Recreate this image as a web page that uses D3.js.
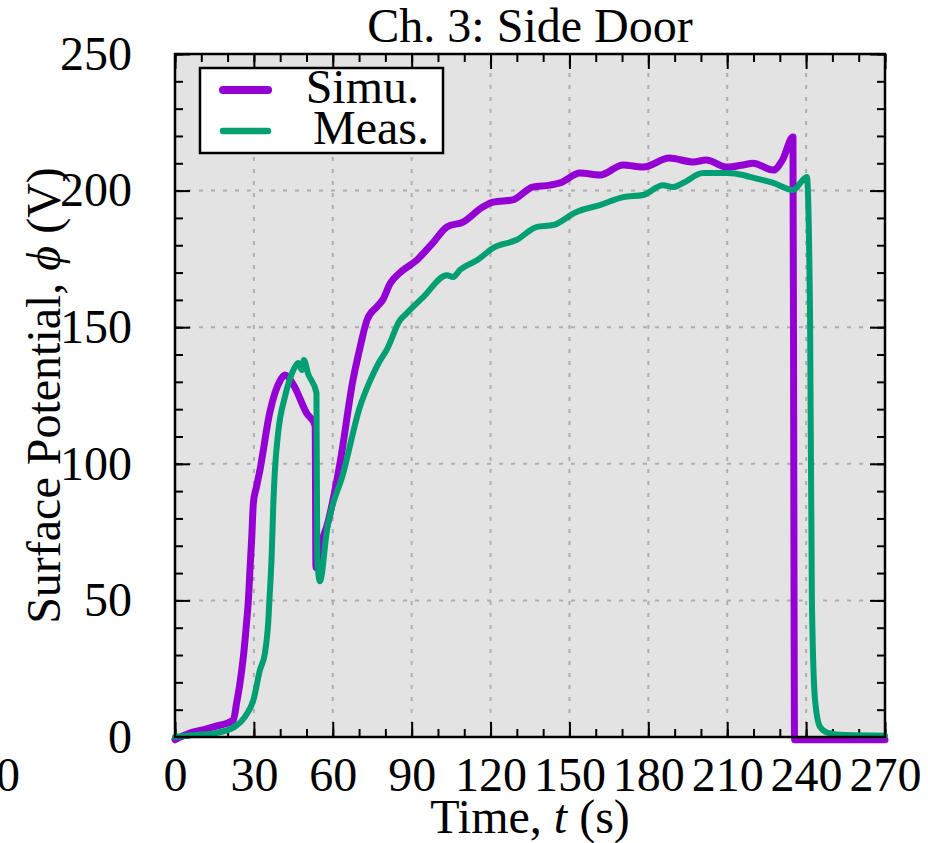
<!DOCTYPE html>
<html>
<head>
<meta charset="utf-8">
<script src="https://cdn.jsdelivr.net/npm/d3@7"></script>
<style>
  html, body { margin: 0; padding: 0; background: #fff; }
  svg { display: block; }
  text { font-family: "Liberation Serif", "Times New Roman", serif; fill: #000; }
</style>
</head>
<body>
<svg id="chart" width="928" height="843"></svg>
<script>
// ---------- data ----------
const chartTitle = "Ch. 3: Side Door";
const seriesNames = ["Simu.", "Meas."];
const seriesColors = ["#9400d3", "#009e73"];

const simuTime = [0, 5, 10, 15, 22.2, 23.4, 24.7, 26, 27.3, 27.9, 28.5, 29.2, 29.8, 31, 32.3, 36, 40, 41.8, 45, 50, 53.3, 53.6, 54.5, 56.3, 57.7, 62.7, 67.7, 70.4, 73, 76.7, 79, 81.8, 85.6, 92, 98, 103.4, 109.5, 117, 121, 128.5, 136, 142.6, 146.4, 154, 161.6, 170.4, 178, 188, 197, 202, 210, 216, 219.8, 227.5, 231, 235, 235.3, 235.6, 270];
const simuValue = [-1, 1.2, 2.5, 3.8, 6.2, 12.3, 19.7, 29.4, 42.8, 50, 61, 73.3, 85.6, 91.6, 97.7, 118.6, 130.5, 132.5, 129, 118.6, 114, 62, 63, 73, 77, 100, 130.7, 142.7, 152.6, 157.4, 160, 166, 170, 174.6, 180.8, 186.7, 188.5, 194, 195.8, 196.6, 201.3, 202, 202.8, 206.4, 205.7, 209.4, 208.6, 211.9, 210.5, 211.2, 208.6, 209.4, 210, 207.5, 211.2, 219.6, 100, -1, -1];

const measTime = [0, 7, 15.2, 22.8, 26.6, 29.8, 32.3, 34.2, 35.5, 35.9, 36.8, 37.4, 38, 39.3, 41.8, 45, 46.8, 48.3, 49, 50.6, 53.8, 54.1, 55.1, 57.8, 64, 70.3, 74, 77.5, 80.5, 85.6, 88, 94.4, 103.4, 105.8, 108.4, 115, 121, 130, 137.6, 143.8, 152.7, 161.6, 170.4, 178, 185.6, 189.4, 193.2, 200.8, 210, 216, 218.7, 227.5, 235, 240.3, 241.5, 242.2, 243.4, 245.3, 248.3, 255, 270];
const measValue = [0, 0.7, 1.4, 3.8, 7.4, 13.5, 24.5, 30.7, 42.8, 50, 67.3, 85.6, 97.7, 112, 124.5, 134.3, 136.9, 134.3, 138, 133, 126, 65, 57, 75.8, 96.6, 120.8, 130, 137, 141.7, 152.6, 155, 161, 169, 168.4, 171, 174.6, 179, 182, 186.7, 187.4, 192.2, 194.7, 197.6, 198.4, 202, 201.3, 202.8, 206.4, 206.4, 205.7, 205, 202.8, 200.2, 205, 153.7, 50, 13.5, 3.7, 1.5, 0.7, 0.5];

const xTicks = [0, 30, 60, 90, 120, 150, 180, 210, 240, 270];
const yTicks = [0, 50, 100, 150, 200, 250];
const xMinorTicks = d3.range(0, 271, 10);
const yMinorTicks = d3.range(0, 251, 10);

// ---------- layout ----------
const L = 175, R = 885, T = 54, B = 737;
const FS = 48;
const svg = d3.select("#chart");

const x = d3.scaleLinear().domain([0, 270]).range([L, R]);
const y = d3.scaleLinear().domain([0, 250]).range([B, T]);

// background
svg.append("rect").attr("x", L).attr("y", T).attr("width", R - L).attr("height", B - T).attr("fill", "#e3e3e3");

// grid
const grid = svg.append("g").attr("stroke", "#aeaeae").attr("stroke-width", 2).attr("stroke-dasharray", "4,8");
grid.selectAll("line.vx").data(xTicks.filter(d => d > 0 && d < 270)).join("line")
  .attr("x1", d => x(d)).attr("x2", d => x(d)).attr("y1", B).attr("y2", T);
grid.selectAll("line.hy").data(yTicks.filter(d => d > 0 && d < 250)).join("line")
  .attr("x1", L).attr("x2", R).attr("y1", d => y(d)).attr("y2", d => y(d));

// axes (ticks inward)
function styleAxis(g) {
  g.select(".domain").remove();
  g.selectAll(".tick line").attr("stroke", "#000").attr("stroke-width", 2);
  g.selectAll("text").style("font-size", FS + "px").attr("fill", "#000");
}
const MAJ = 15, MIN = 8;
svg.append("g").attr("transform", `translate(0,${B})`)
  .call(d3.axisBottom(x).tickValues(xMinorTicks).tickSize(-MIN).tickFormat(""))
  .call(styleAxis);
svg.append("g").attr("transform", `translate(0,${B})`)
  .call(d3.axisBottom(x).tickValues(xTicks).tickSize(-MAJ).tickPadding(20).tickFormat(d3.format("d")))
  .call(styleAxis);
svg.append("g").attr("transform", `translate(0,${T})`)
  .call(d3.axisTop(x).tickValues(xMinorTicks).tickSize(-MIN).tickFormat(""))
  .call(styleAxis);
svg.append("g").attr("transform", `translate(0,${T})`)
  .call(d3.axisTop(x).tickValues(xTicks).tickSize(-MAJ).tickFormat(""))
  .call(styleAxis);
svg.append("g").attr("transform", `translate(${L},0)`)
  .call(d3.axisLeft(y).tickValues(yMinorTicks).tickSize(-MIN).tickFormat(""))
  .call(styleAxis);
svg.append("g").attr("transform", `translate(${L},0)`)
  .call(d3.axisLeft(y).tickValues(yTicks).tickSize(-MAJ).tickPadding(43).tickFormat(d3.format("d")))
  .call(styleAxis);
svg.append("g").attr("transform", `translate(${R},0)`)
  .call(d3.axisRight(y).tickValues(yMinorTicks).tickSize(-MIN).tickFormat(""))
  .call(styleAxis);
svg.append("g").attr("transform", `translate(${R},0)`)
  .call(d3.axisRight(y).tickValues(yTicks).tickSize(-MAJ).tickFormat(""))
  .call(styleAxis);

// stray clipped label at the far left
svg.append("text").attr("x", 8).attr("y", 791).attr("text-anchor", "middle").style("font-size", FS + "px").text("0");

// lines
const line = d3.line().x(d => x(d[0])).y(d => y(d[1])).curve(d3.curveMonotoneX);
const simu = simuTime.map((t, i) => [t, simuValue[i]]);
const meas = measTime.map((t, i) => [t, measValue[i]]);
svg.append("path").datum(simu).attr("d", line).attr("fill", "none")
  .attr("stroke", seriesColors[0]).attr("stroke-width", 7).attr("stroke-linejoin", "round").attr("stroke-linecap", "round");
svg.append("path").datum(meas).attr("d", line).attr("fill", "none")
  .attr("stroke", seriesColors[1]).attr("stroke-width", 6).attr("stroke-linejoin", "round").attr("stroke-linecap", "round");

// border
svg.append("rect").attr("x", L).attr("y", T).attr("width", R - L).attr("height", B - T)
  .attr("fill", "none").attr("stroke", "#000").attr("stroke-width", 2.5);

// legend
const lg = svg.append("g");
lg.append("rect").attr("x", 200).attr("y", 68).attr("width", 243).attr("height", 85)
  .attr("fill", "#fff").attr("stroke", "#000").attr("stroke-width", 2.5);
const legY = [90, 131];
const legTextEnd = [419, 429];
seriesNames.forEach((name, i) => {
  lg.append("line").attr("x1", 223).attr("x2", 268).attr("y1", legY[i]).attr("y2", legY[i])
    .attr("stroke", seriesColors[i]).attr("stroke-width", i === 0 ? 8 : 6.5).attr("stroke-linecap", "round");
  lg.append("text").attr("x", legTextEnd[i]).attr("y", legY[i] + 13).attr("text-anchor", "end")
    .style("font-size", FS + "px").text(name);
});

// title
svg.append("text").attr("x", 530).attr("y", 42).attr("text-anchor", "middle").style("font-size", FS + "px").text(chartTitle);

// x label
const xl = svg.append("text").attr("x", 530).attr("y", 833).attr("text-anchor", "middle").style("font-size", FS + "px");
xl.append("tspan").text("Time, ");
xl.append("tspan").attr("font-style", "italic").text("t");
xl.append("tspan").text(" (s)");

// y label
const yl = svg.append("text").attr("transform", `translate(60,${(T + B) / 2}) rotate(-90)`)
  .attr("text-anchor", "middle").style("font-size", FS + "px");
yl.append("tspan").text("Surface Potential, ");
yl.append("tspan").attr("font-style", "italic").text("\u03d5");
yl.append("tspan").text(" (V)");
</script>
</body>
</html>
